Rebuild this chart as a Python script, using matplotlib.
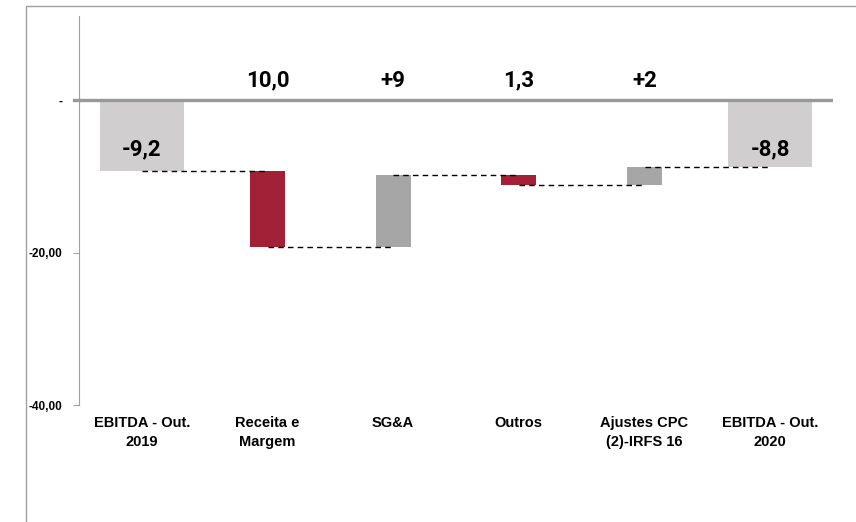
import numpy as np
import matplotlib
matplotlib.use("Agg")
import matplotlib.pyplot as plt
from matplotlib.patches import Rectangle

# data
categories = ["EBITDA - Out.\n2019", "Receita e\nMargem", "SG&A", "Outros",
              "Ajustes CPC\n(2)-IRFS 16", "EBITDA - Out.\n2020"]
start_value = -9.2
deltas = [-10.0, 9.4, -1.3, 2.3]
end_value = -8.8
value_labels = ["-9,2", "10,0", "+9", "1,3", "+2", "-8,8"]

light_gray = "#D0CECE"
dark_gray = "#A6A6A6"
red = "#A32136"

# running totals for the waterfall
levels = [start_value]
for d in deltas:
    levels.append(levels[-1] + d)

bottoms = [0]
heights = [start_value]
colors = [light_gray]
for i, d in enumerate(deltas):
    bottoms.append(levels[i])
    heights.append(d)
    colors.append(red if d < 0 else dark_gray)
bottoms.append(0)
heights.append(end_value)
colors.append(light_gray)
widths = [0.67, 0.28, 0.28, 0.28, 0.28, 0.67]

fig = plt.figure(figsize=(8.56, 5.22), dpi=100)
ax = fig.add_axes([79 / 856, 1 - 405 / 522, 754 / 856, 389 / 522])

x = np.arange(len(categories))
ax.bar(x, heights, bottom=bottoms, width=widths, color=colors, zorder=2)

# connectors between bar centres
conn_levels = levels + [end_value]
for i in range(len(categories) - 1):
    ax.plot([x[i], x[i + 1]], [conn_levels[i], conn_levels[i]], color="black",
            lw=1.0, ls=(0, (4, 3)), zorder=3)

ax.axhline(0, color="#999999", lw=2.4, zorder=4)
ax.plot([-0.54, -0.5], [0, 0], color="#999999", lw=2.4, clip_on=False, zorder=4)

# value labels
val_font = dict(family=["Roboto", "DejaVu Sans"], fontsize=16, fontweight="bold")
for i, lab in enumerate(value_labels):
    if i in (0, len(value_labels) - 1):
        ax.text(x[i], -6.4, lab, ha="center", va="center", **val_font, zorder=5)
    else:
        ax.text(x[i], 2.6, lab, ha="center", va="center", **val_font, zorder=5)

ax.set_xlim(-0.5, len(categories) - 0.5)
ax.set_ylim(-40, 11.1)
ax.set_yticks([0, -20, -40])
ax.set_yticklabels(["-", "-20,00", "-40,00"], fontsize=8.5, fontweight="bold",
                   family=["Liberation Sans", "DejaVu Sans"])
ax.tick_params(axis="y", length=4, color="#A0A0A0", pad=8)
ax.set_xticks(x)
ax.set_xticklabels(categories, fontsize=10.5, fontweight="bold",
                   family=["Liberation Sans Narrow", "Liberation Sans"],
                   linespacing=1.45)
ax.tick_params(axis="x", length=0, pad=8)

for s in ["top", "right", "bottom"]:
    ax.spines[s].set_visible(False)
ax.spines["left"].set_color("#A0A0A0")

# outer frame of the chart area
fig.patches.append(Rectangle((26 / 856, -0.1), 1.0, 1 - 6 / 522 + 0.1,
                             transform=fig.transFigure, fill=False,
                             edgecolor="#A0A0A0", lw=1.0))

fig.savefig("out.png", dpi=100)
